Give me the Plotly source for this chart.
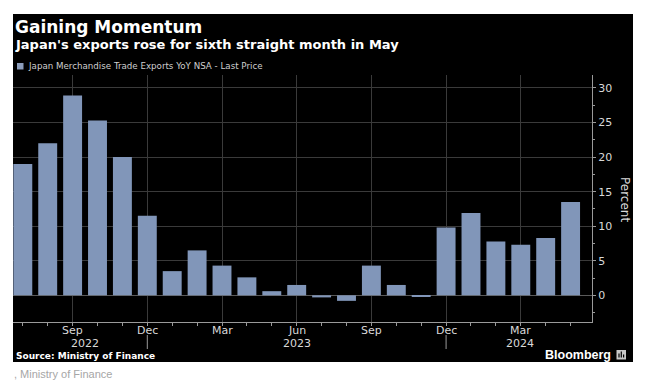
import plotly.graph_objects as go

months = ["Jul 2022","Aug 2022","Sep 2022","Oct 2022","Nov 2022","Dec 2022",
          "Jan 2023","Feb 2023","Mar 2023","Apr 2023","May 2023","Jun 2023",
          "Jul 2023","Aug 2023","Sep 2023","Oct 2023","Nov 2023","Dec 2023",
          "Jan 2024","Feb 2024","Mar 2024","Apr 2024","May 2024"]
exports_yoy = [19.0, 22.0, 28.9, 25.3, 20.0, 11.5, 3.5, 6.5, 4.3, 2.6, 0.6, 1.5,
               -0.3, -0.8, 4.3, 1.5, -0.2, 9.8, 11.9, 7.8, 7.3, 8.3, 13.5]
tick_idx = [2, 5, 8, 11, 14, 17, 20]
tick_labels = ["Sep", "Dec", "Mar", "Jun", "Sep", "Dec", "Mar"]
year_labels = ["2022", "2023", "2024"]
year_pos = [2.5, 11, 19.95]
year_sep = [5, 17]

OFF = 8  # page body margin
W, H = 645 - OFF, 383 - OFF
# plot area in screenshot pixels
SL, SR, ST, SB = 13, 592, 75, 322
L, R, T, B = SL - OFF, SR - OFF, ST - OFF, SB - OFF

def fx(xs):
    return (xs - SL) / (SR - SL)
def fy(ys):
    return (SB - ys) / (SB - ST)

x = list(range(len(months)))
BAR = "#8196b9"
TXT = "#d9d9d9"
FONT = "DejaVu Sans"
GRID = "#3a3a3a"

fig = go.Figure(go.Bar(x=x, y=exports_yoy, marker_color=BAR, marker_line_width=0,
                       hovertext=months, name="Japan Merchandise Trade Exports YoY NSA - Last Price"))

shapes = [
    dict(type="rect", xref="paper", yref="paper", x0=fx(13), x1=fx(633), y0=fy(362), y1=fy(14),
         fillcolor="black", line_width=0, layer="below"),
    dict(type="rect", xref="paper", yref="paper", x0=fx(17), x1=fx(23.5), y0=fy(69.5), y1=fy(63),
         fillcolor="#8c9dbb", line_width=0),
    # Bloomberg icon
    dict(type="rect", xref="paper", yref="paper", x0=fx(616.5), x1=fx(626), y0=fy(359.5), y1=fy(350),
         fillcolor="#c8c8c8", line_width=0),
]
for xi, hh in zip([619, 621.3, 623.6], [4, 6, 3]):
    shapes.append(dict(type="line", xref="paper", yref="paper", x0=fx(xi), x1=fx(xi),
                       y0=fy(357.5), y1=fy(357.5 - hh), line=dict(color="black", width=1.2)))
for s in year_sep:
    shapes.append(dict(type="line", xref="x", yref="paper", x0=s, x1=s, y0=fy(335), y1=fy(349),
                       line=dict(color="#9a9a9a", width=1)))

ann = [
    dict(text="<b>Gaining Momentum</b>", x=fx(13), y=fy(27), xanchor="left", yanchor="middle",
         font=dict(size=17, color="white", family=FONT)),
    dict(text="<b>Japan's exports rose for sixth straight month in May</b>", x=fx(13), y=fy(44.5),
         xanchor="left", yanchor="middle", font=dict(size=13, color="white", family=FONT)),
    dict(text="Japan Merchandise Trade Exports YoY NSA - Last Price", x=fx(25.5), y=fy(66),
         xanchor="left", yanchor="middle", font=dict(size=8.7, color="#cfcfcf", family=FONT)),
    dict(text="<b>Source: Ministry of Finance</b>", x=fx(14), y=fy(355.5), xanchor="left",
         yanchor="middle", font=dict(size=9, color="white", family=FONT)),
    dict(text="<b>Bloomberg</b>", x=fx(613), y=fy(355), xanchor="right", yanchor="middle",
         font=dict(size=12.5, color="white", family="Liberation Sans")),
    dict(text=", Ministry of Finance", x=fx(12), y=fy(373.5), xanchor="left", yanchor="middle",
         font=dict(size=11, color="#a6a6a6", family="Liberation Sans")),
    dict(text="Percent", x=fx(625), y=fy(199), xanchor="center", yanchor="middle", textangle=90,
         font=dict(size=12, color=TXT, family=FONT)),
]
for lab, pos in zip(tick_labels, tick_idx):
    ann.append(dict(text=lab, xref="x", x=pos, y=fy(330.5), yref="paper", xanchor="center",
                    yanchor="middle", font=dict(size=11, color=TXT, family=FONT)))
for lab, pos in zip(year_labels, year_pos):
    ann.append(dict(text=lab, xref="x", x=pos, y=fy(343), yref="paper", xanchor="center",
                    yanchor="middle", font=dict(size=11, color=TXT, family=FONT)))
for a in ann:
    a.setdefault("xref", "paper")
    a.setdefault("yref", "paper")
    a["showarrow"] = False

fig.update_layout(
    width=W, height=H,
    margin=dict(l=L, r=W - R, t=T, b=H - B, pad=0),
    paper_bgcolor="white", plot_bgcolor="black",
    bargap=0.24, showlegend=False,
    shapes=shapes, annotations=ann,
    font=dict(family=FONT, color=TXT),
    xaxis=dict(range=[-0.394, 22.86], tickmode="array", tickvals=tick_idx, showticklabels=False,
               showgrid=True, gridcolor=GRID, gridwidth=1, zeroline=False,
               showline=True, linecolor="#9a9a9a", linewidth=1,
               ticks="outside", ticklen=3, tickcolor="#9a9a9a",
               minor=dict(tickvals=x, ticks="outside", ticklen=3, tickcolor="#9a9a9a", showgrid=False),
               fixedrange=True),
    yaxis=dict(range=[-3.86, 31.88], side="right", tickmode="array",
               tickvals=[0, 5, 10, 15, 20, 25, 30],
               showgrid=True, gridcolor=GRID, gridwidth=1,
               zeroline=True, zerolinecolor="#5a5a5a", zerolinewidth=1,
               showline=True, linecolor="#9a9a9a", linewidth=1,
               ticks="outside", ticklen=3, tickcolor="#9a9a9a",
               minor=dict(dtick=2.5, ticks="outside", ticklen=2, tickcolor="#9a9a9a", showgrid=False),
               tickfont=dict(size=11, color=TXT, family=FONT), fixedrange=True),
)

fig.write_html("out.html")
